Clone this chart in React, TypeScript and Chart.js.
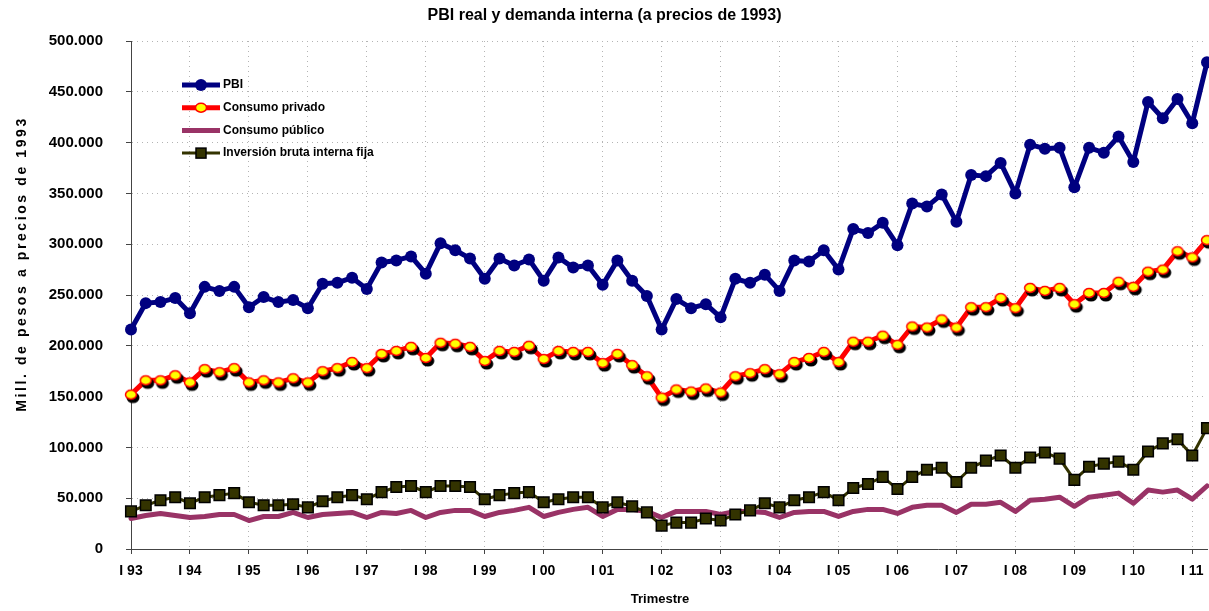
import React, { useEffect, useRef } from "react";
import { Chart, registerables } from "chart.js";

Chart.register(...registerables);

const TITLE = "PBI real y demanda interna (a precios de 1993)";
const Y_TITLE = "Mill. de pesos a precios de 1993";
const X_TITLE = "Trimestre";

const years = ["93", "94", "95", "96", "97", "98", "99", "00", "01", "02", "03", "04", "05", "06", "07", "08", "09", "10", "11"];
const quarterNames = ["I", "II", "III", "IV"];
const quarterLabels: string[] = [];
years.forEach((y) => quarterNames.forEach((q) => quarterLabels.push(q + " " + y)));
const labels = quarterLabels.slice(0, 74);

const seriesNames = ["PBI", "Consumo privado", "Consumo público", "Inversión bruta interna fija"];

const pbi = [
  216000, 242000, 243000, 247000,
  232000, 258000, 254000, 258000,
  238000, 248000, 243000, 245000,
  237000, 261000, 262000, 267000,
  256000, 282000, 284000, 288000,
  271000, 301000, 294000, 286000,
  266000, 286000, 279000, 285000,
  264000, 287000, 277000, 279000,
  260000, 284000, 264000, 249000,
  216000, 246000, 237000, 241000,
  228000, 266000, 262000, 270000,
  254000, 284000, 283000, 294000,
  275000, 315000, 311000, 321000,
  299000, 340000, 337000, 349000,
  322000, 368000, 367000, 380000,
  350000, 398000, 394000, 395000,
  356000, 395000, 390000, 406000,
  381000, 440000, 424000, 443000,
  419000, 479000,
];

const consumoPrivado = [
  152000, 166000, 166000, 171000,
  164000, 177000, 174000, 178000,
  164000, 166000, 164000, 168000,
  164000, 175000, 178000, 184000,
  178000, 192000, 195000, 199000,
  188000, 203000, 202000, 199000,
  185000, 195000, 194000, 200000,
  187000, 195000, 194000, 194000,
  183000, 192000, 181000, 170000,
  149000, 157000, 155000, 158000,
  154000, 170000, 173000, 177000,
  172000, 184000, 188000, 194000,
  184000, 204000, 204000, 210000,
  201000, 219000, 218000, 226000,
  218000, 238000, 238000, 247000,
  237000, 257000, 254000, 257000,
  241000, 252000, 252000, 263000,
  258000, 273000, 275000, 293000,
  287000, 304000,
];

const consumoPublico = [
  30000, 33000, 35000, 33000,
  31000, 32000, 34000, 34000,
  28000, 32000, 32000, 36000,
  31000, 34000, 35000, 36000,
  31000, 36000, 35000, 38000,
  31000, 36000, 38000, 38000,
  32000, 36000, 38000, 41000,
  32000, 36000, 39000, 41000,
  32000, 39000, 39000, 37000,
  31000, 37000, 37000, 37000,
  34000, 37000, 37000, 36000,
  31000, 36000, 37000, 37000,
  32000, 37000, 39000, 39000,
  35000, 41000, 43000, 43000,
  36000, 44000, 44000, 46000,
  37000, 48000, 49000, 51000,
  42000, 51000, 53000, 55000,
  45000, 58000, 56000, 58000,
  49000, 62000,
];

const inversion = [
  37000, 43000, 48000, 51000,
  45000, 51000, 53000, 55000,
  46000, 43000, 43000, 44000,
  41000, 47000, 51000, 53000,
  49000, 56000, 61000, 62000,
  56000, 62000, 62000, 61000,
  49000, 53000, 55000, 56000,
  46000, 49000, 51000, 51000,
  41000, 46000, 42000, 36000,
  23000, 26000, 26000, 30000,
  28000, 34000, 38000, 45000,
  41000, 48000, 51000, 56000,
  48000, 60000, 64000, 71000,
  59000, 71000, 78000, 80000,
  66000, 80000, 87000, 92000,
  80000, 90000, 95000, 89000,
  68000, 81000, 84000, 86000,
  78000, 96000, 104000, 108000,
  92000, 119000,
];

const Y_MIN = 0;
const Y_MAX = 500000;
const Y_STEP = 50000;

const FONT = "Arial, 'Liberation Sans', sans-serif";

function fmt(v: number): string {
  return String(v).replace(/\B(?=(\d{3})+(?!\d))/g, ".");
}

function drawEllipseMarker(ctx: CanvasRenderingContext2D, cx: number, cy: number, shadow: boolean) {
  if (shadow) {
    ctx.beginPath();
    ctx.ellipse(cx + 2, cy + 3, 6.5, 5.5, 0, 0, Math.PI * 2);
    ctx.fillStyle = "#000000";
    ctx.fill();
  }
  ctx.beginPath();
  ctx.ellipse(cx, cy, 5.5, 4.5, 0, 0, Math.PI * 2);
  ctx.fillStyle = "#FFFF00";
  ctx.fill();
  ctx.lineWidth = 1.5;
  ctx.strokeStyle = "#FF0000";
  ctx.stroke();
}

function makeMarkerImage(): HTMLCanvasElement {
  const c = document.createElement("canvas");
  c.width = 22;
  c.height = 22;
  const cx = c.getContext("2d") as CanvasRenderingContext2D;
  drawEllipseMarker(cx, 11, 11, true);
  return c;
}

const overlayPlugin = {
  id: "overlay",
  afterDraw(chart: any) {
    const ctx: CanvasRenderingContext2D = chart.ctx;
    const area = chart.chartArea;
    ctx.save();
    ctx.fillStyle = "#000";
    // title
    ctx.font = "bold 16px " + FONT;
    ctx.textAlign = "center";
    ctx.textBaseline = "middle";
    ctx.fillText(TITLE, chart.width / 2, 16);
    // x title
    ctx.font = "bold 13px " + FONT;
    ctx.fillText(X_TITLE, (area.left + area.right) / 2 - 9, 599);
    // y title
    ctx.save();
    ctx.translate(22, (area.top + area.bottom) / 2 - 31);
    ctx.rotate(-Math.PI / 2);
    ctx.font = "bold 14px " + FONT;
    try {
      (ctx as any).letterSpacing = "2.6px";
    } catch (e) {}
    ctx.fillText(Y_TITLE, 0, 0);
    ctx.restore();

    // legend
    const lx0 = area.left + 51;
    const lx1 = area.left + 89;
    const mx = (lx0 + lx1) / 2;
    const ty = area.top + 44;
    chart.data.datasets.forEach((ds: any, i: number) => {
      const y = ty + i * 22.7;
      ctx.save();
      ctx.beginPath();
      ctx.moveTo(lx0, y);
      ctx.lineTo(lx1, y);
      ctx.lineWidth = ds.borderWidth;
      ctx.strokeStyle = ds.borderColor;
      ctx.stroke();
      if (i === 0) {
        ctx.beginPath();
        ctx.arc(mx, y, 6, 0, Math.PI * 2);
        ctx.fillStyle = ds.pointBackgroundColor;
        ctx.fill();
      } else if (i === 1) {
        drawEllipseMarker(ctx, mx, y, false);
      } else if (i === 3) {
        ctx.fillStyle = ds.pointBackgroundColor;
        ctx.fillRect(mx - 5, y - 5, 10, 10);
        ctx.lineWidth = 1.5;
        ctx.strokeStyle = "#000";
        ctx.strokeRect(mx - 5, y - 5, 10, 10);
      }
      ctx.restore();
      ctx.fillStyle = "#000";
      ctx.font = "bold 12px " + FONT;
      ctx.textAlign = "left";
      ctx.textBaseline = "middle";
      ctx.fillText(ds.label, lx1 + 3, y);
    });
    ctx.restore();
  },
};

export default function App() {
  const ref = useRef<HTMLCanvasElement | null>(null);

  useEffect(() => {
    document.body.style.margin = "0";
    const canvas = ref.current;
    if (!canvas) return;
    const marker = makeMarkerImage();
    const chart = new Chart(canvas, {
      type: "line",
      data: {
        labels,
        datasets: [
          {
            label: seriesNames[0],
            data: pbi,
            borderColor: "#000080",
            backgroundColor: "#000080",
            borderWidth: 5,
            pointRadius: 6,
            pointBackgroundColor: "#000080",
            pointBorderColor: "#000080",
            pointBorderWidth: 0,
            borderJoinStyle: "round",
            borderCapStyle: "round",
            clip: false,
            order: 0,
          },
          {
            label: seriesNames[1],
            data: consumoPrivado,
            borderColor: "#FF0000",
            backgroundColor: "#FFFF00",
            borderWidth: 5,
            pointStyle: marker,
            pointRadius: 6,
            borderJoinStyle: "round",
            borderCapStyle: "round",
            clip: false,
            order: 1,
          },
          {
            label: seriesNames[2],
            data: consumoPublico,
            borderColor: "#993366",
            backgroundColor: "#993366",
            borderWidth: 5,
            pointRadius: 0,
            borderJoinStyle: "round",
            borderCapStyle: "round",
            clip: false,
            order: 3,
          },
          {
            label: seriesNames[3],
            data: inversion,
            borderColor: "#333300",
            backgroundColor: "#333300",
            borderWidth: 3,
            pointStyle: "rect",
            pointRadius: 7.5,
            pointBackgroundColor: "#333300",
            pointBorderColor: "#000000",
            pointBorderWidth: 1.5,
            borderJoinStyle: "round",
            clip: false,
            order: 2,
          },
        ] as any,
      },
      options: {
        responsive: false,
        animation: false,
        events: [],
        layout: { autoPadding: false, padding: { top: 41, right: 2, left: 0, bottom: 0 } },
        plugins: {
          legend: { display: false },
          title: { display: false },
          tooltip: { enabled: false },
        },
        scales: {
          x: {
            type: "category",
            offset: false,
            afterFit(scale: any) {
              scale.height = 62;
              scale.paddingLeft = 0;
              scale.paddingRight = 0;
            },
            grid: {
              display: true,
              drawOnChartArea: true,
              drawTicks: true,
              tickLength: 5,
              lineWidth: 1,
              offset: false,
              color: (c: any) => (c.index % 4 === 0 ? "#b4b4b4" : "rgba(0,0,0,0)"),
              tickColor: (c: any) => (c.index % 4 === 0 ? "#444444" : "rgba(0,0,0,0)"),
            },
            border: { display: true, color: "#444444", width: 1, dash: [1, 4] },
            ticks: {
              autoSkip: false,
              maxRotation: 0,
              minRotation: 0,
              padding: 9,
              color: "#000",
              font: { family: FONT, size: 14, weight: "bold" },
              callback: (_v: any, i: number) => (i % 4 === 0 ? labels[i] : ""),
            },
          },
          y: {
            min: Y_MIN,
            max: Y_MAX,
            afterFit(scale: any) {
              scale.width = 131;
              scale.paddingTop = 0;
              scale.paddingBottom = 0;
            },
            grid: {
              color: "#b4b4b4",
              lineWidth: 1,
              tickLength: 5,
              tickColor: "#444444",
            },
            border: { display: true, color: "#444444", width: 1, dash: [1, 4] },
            ticks: {
              stepSize: Y_STEP,
              padding: 23,
              color: "#000",
              font: { family: FONT, size: 15, weight: "bold" },
              callback: (v: any) => fmt(Number(v)),
            },
          },
        },
      } as any,
      plugins: [overlayPlugin],
    });
    return () => chart.destroy();
  }, []);

  return (
    <div style={{ width: 1209, height: 611, background: "#fff" }}>
      <canvas ref={ref} width={1209} height={611} style={{ display: "block" }} />
    </div>
  );
}
